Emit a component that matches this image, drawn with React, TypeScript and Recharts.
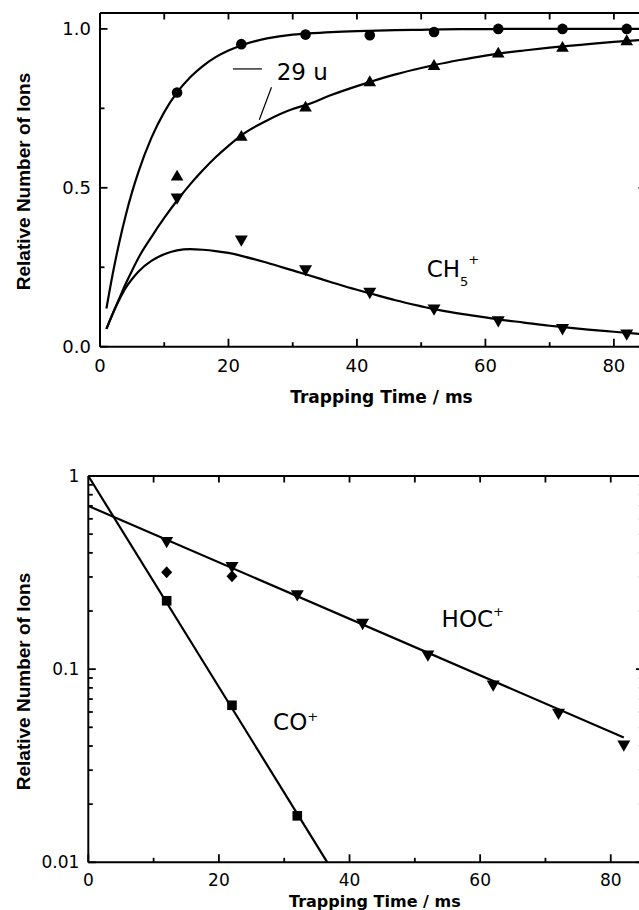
import React from "react";
import {
  ComposedChart,
  Line,
  Scatter,
  XAxis,
  YAxis,
  ReferenceDot,
  ReferenceLine,
} from "recharts";

// ─── Data ──────────────────────────────────────────────────────────────────────

// trapping times (ms) of the measured points
const sampleTimes = [12, 22, 32, 42, 52, 62, 72, 82];

// upper panel – measured relative numbers
const circleValues = [0.8, 0.952, 0.982, 0.98, 0.99, 1.0, 1.0, 1.0];
const upTriangleValues = [0.538, 0.663, 0.755, 0.835, 0.886, 0.925, 0.943, 0.964];
const ch5Values = [0.467, 0.335, 0.241, 0.17, 0.118, 0.081, 0.056, 0.039];

// upper panel – fitted curves
const curveTimes = [1, 2, 3, 4, 5, 6, 8, 10, 12, 14, 16, 18, 20, 22, 26, 30, 32, 36, 40, 42, 46, 50, 52, 56, 60, 62, 66, 70, 72, 76, 80, 84];
const circleCurve = [0.12, 0.231, 0.328, 0.413, 0.487, 0.551, 0.657, 0.738, 0.8, 0.847, 0.883, 0.911, 0.932, 0.948, 0.97, 0.982, 0.985, 0.99, 0.993, 0.994, 0.996, 0.997, 0.998, 0.999, 0.999, 1, 1, 1, 1, 1, 1, 1];
const upTriangleCurve = [0.056, 0.105, 0.152, 0.198, 0.24, 0.28, 0.345, 0.405, 0.46, 0.51, 0.555, 0.596, 0.632, 0.665, 0.712, 0.748, 0.76, 0.792, 0.82, 0.833, 0.857, 0.877, 0.886, 0.902, 0.916, 0.922, 0.932, 0.941, 0.945, 0.952, 0.959, 0.965];
const ch5Curve = [0.056, 0.105, 0.148, 0.185, 0.213, 0.237, 0.27, 0.291, 0.303, 0.307, 0.305, 0.301, 0.295, 0.286, 0.264, 0.24, 0.228, 0.203, 0.179, 0.168, 0.146, 0.127, 0.118, 0.104, 0.092, 0.086, 0.076, 0.066, 0.062, 0.054, 0.047, 0.04];

// lower panel – measured points (log scale)
const hocValues = [0.457, 0.339, 0.242, 0.172, 0.118, 0.0826, 0.0589, 0.0404];
const diamondTimes = [12, 22];
const diamondValues = [0.317, 0.303];
const coTimes = [12, 22, 32];
const coValues = [0.226, 0.065, 0.0174];

// lower panel – fitted straight lines (end points)
const hocFitTimes = [0, 82];
const hocFitValues = [0.7, 0.0443];
const coFitTimes = [0, 36.6];
const coFitValues = [1, 0.01];

// axis ticks
const timeTicks = [0, 10, 20, 30, 40, 50, 60, 70, 80];
const linearTicks = [0, 0.25, 0.5, 0.75, 1];
const logTicks = [
  0.01, 0.02, 0.03, 0.04, 0.05, 0.06, 0.07, 0.08, 0.09,
  0.1, 0.2, 0.3, 0.4, 0.5, 0.6, 0.7, 0.8, 0.9, 1,
];

const pts = (ts: number[], vs: number[]) => ts.map((t, i) => ({ t, v: vs[i] }));

// ─── Styling helpers ───────────────────────────────────────────────────────────

const INK = "#000";
const FONT = "'DejaVu Sans', sans-serif";
const AXIS_LINE = { stroke: INK, strokeWidth: 2 };

// marker shapes
const CircleMark = (p: any) => <circle cx={p.cx} cy={p.cy} r={5.3} fill={INK} />;
const TriUpMark = (p: any) => (
  <polygon points={`${p.cx},${p.cy - 6} ${p.cx - 6.3},${p.cy + 4.8} ${p.cx + 6.3},${p.cy + 4.8}`} fill={INK} />
);
const TriDownMark = (p: any) => (
  <polygon points={`${p.cx - 6.5},${p.cy - 4.8} ${p.cx + 6.5},${p.cy - 4.8} ${p.cx},${p.cy + 6.5}`} fill={INK} />
);
const SquareMark = (p: any) => <rect x={p.cx - 4.8} y={p.cy - 4.8} width={9.6} height={9.6} fill={INK} />;
const DiamondMark = (p: any) => (
  <polygon points={`${p.cx},${p.cy - 6} ${p.cx + 5.5},${p.cy} ${p.cx},${p.cy + 6} ${p.cx - 5.5},${p.cy}`} fill={INK} />
);

// Ticks: tickSize/tickMargin are 0, so x,y is the point on the axis line.
// A top-oriented XAxis would not lay out its ticks, so the bottom tick also
// draws the matching inward tick on the top frame (plotHeight above).
const bottomTick = (fontSize: number, labelDy: number, plotHeight: number) => (props: any) => {
  const { x, y, payload } = props;
  const major = payload.value % 20 === 0;
  const top = y - plotHeight;
  return (
    <g>
      <line x1={x} x2={x} y1={y} y2={y - (major ? 8 : 4.5)} stroke={INK} strokeWidth={1.8} />
      {payload.value > 0 && <line x1={x} x2={x} y1={top} y2={top + 6.5} stroke={INK} strokeWidth={1.8} />}
      {major && (
        <text x={x} y={y + labelDy} textAnchor="middle" fontSize={fontSize} fontFamily={FONT} fill={INK}>
          {payload.value}
        </text>
      )}
    </g>
  );
};

const leftTick = (fontSize: number, format: (v: number) => string) => (props: any) => {
  const { x, y, payload } = props;
  const label = format(payload.value);
  return (
    <g>
      <line x1={x} x2={x + (label ? 7.5 : 4.5)} y1={y} y2={y} stroke={INK} strokeWidth={1.8} />
      {label && (
        <text x={x - 9} y={y} dy="0.36em" textAnchor="end" fontSize={fontSize} fontFamily={FONT} fill={INK}>
          {label}
        </text>
      )}
    </g>
  );
};

const rightTick = (format: (v: number) => string) => (props: any) => {
  const { x, y, payload } = props;
  const len = format(payload.value) ? 7.5 : 4.5;
  return <line x1={x} x2={x - len} y1={y} y2={y} stroke={INK} strokeWidth={1.8} />;
};

const linearLabel = (v: number) => (v === 0 || v === 0.5 || v === 1 ? v.toFixed(1) : "");
const logLabel = (v: number) => (v === 0.01 ? "0.01" : v === 0.1 ? "0.1" : v === 1 ? "1" : "");

const xTitle = (dx: number, dy: number, size: number) => (props: any) => {
  const { x, y, width } = props.viewBox;
  return (
    <text x={x + width / 2 + dx} y={y + dy} textAnchor="middle" fontFamily={FONT} fontWeight="bold" fontSize={size} fill={INK}>
      Trapping Time / ms
    </text>
  );
};

const yTitle = (shift: number) => (props: any) => {
  const { x, y, height } = props.viewBox;
  const cx = x + 30;
  const cy = y + height / 2 + shift;
  return (
    <text
      x={cx}
      y={cy}
      transform={`rotate(-90 ${cx} ${cy})`}
      textAnchor="middle"
      fontFamily="'Liberation Sans', Arial, sans-serif"
      fontWeight="bold"
      fontSize={19}
      fill={INK}
    >
      Relative Number of Ions
    </text>
  );
};

// in-plot species labels
const speciesLabel = (main: string, sub: string, sup: string, supDy: number) => (p: any) => (
  <text x={p.cx} y={p.cy} fontSize={23} fontFamily={FONT} fill={INK}>
    {main}
    {sub && (
      <tspan dy={9.5} fontSize={13}>
        {sub}
      </tspan>
    )}
    {sup && (
      <tspan dy={supDy} fontSize={13}>
        {sup}
      </tspan>
    )}
  </text>
);

// ─── Panels ────────────────────────────────────────────────────────────────────

function UpperPanel() {
  return (
    <ComposedChart width={700} height={420} margin={{ top: 3, right: 44, bottom: 13.3, left: 0 }}>
      <XAxis
        dataKey="t"
        type="number"
        domain={[0, 85]}
        allowDataOverflow
        ticks={timeTicks}
        interval={0}
        height={60}
        tickSize={0}
        tickMargin={0}
        axisLine={AXIS_LINE}
        tick={bottomTick(18, 25, 333.7)}
        label={xTitle(8.5, 56.3, 17)}
      />
      {/* top frame line */}
      <XAxis
        xAxisId="top"
        orientation="top"
        type="number"
        domain={[0, 85]}
        allowDataOverflow
        height={10}
        tickLine={false}
        tick={false}
        axisLine={AXIS_LINE}
      />
      <YAxis
        type="number"
        domain={[0, 1.05]}
        allowDataOverflow
        ticks={linearTicks}
        interval={0}
        width={100}
        tickSize={0}
        tickMargin={0}
        axisLine={AXIS_LINE}
        tick={leftTick(18, linearLabel)}
        label={yTitle(1.65)}
      />
      <YAxis
        yAxisId="right"
        orientation="right"
        type="number"
        domain={[0, 1.05]}
        allowDataOverflow
        ticks={linearTicks}
        interval={0}
        width={10}
        tickSize={0}
        tickMargin={0}
        axisLine={AXIS_LINE}
        tick={rightTick(linearLabel)}
      />

      <Line data={pts(curveTimes, circleCurve)} dataKey="v" type="monotone" stroke={INK} strokeWidth={2.2} dot={false} activeDot={false} isAnimationActive={false} />
      <Line data={pts(curveTimes, upTriangleCurve)} dataKey="v" type="monotone" stroke={INK} strokeWidth={2.2} dot={false} activeDot={false} isAnimationActive={false} />
      <Line data={pts(curveTimes, ch5Curve)} dataKey="v" type="monotone" stroke={INK} strokeWidth={2.2} dot={false} activeDot={false} isAnimationActive={false} />

      <Scatter data={pts(sampleTimes, circleValues)} dataKey="v" shape={CircleMark} isAnimationActive={false} />
      <Scatter data={pts(sampleTimes, upTriangleValues)} dataKey="v" shape={TriUpMark} isAnimationActive={false} />
      <Scatter data={pts(sampleTimes, ch5Values)} dataKey="v" shape={TriDownMark} isAnimationActive={false} />

      {/* leader lines of the "29 u" label */}
      <ReferenceLine segment={[{ x: 20.7, y: 0.874 }, { x: 25.2, y: 0.874 }]} stroke={INK} strokeWidth={1.2} />
      <ReferenceLine segment={[{ x: 26.7, y: 0.8165 }, { x: 24.8, y: 0.714 }]} stroke={INK} strokeWidth={1.2} />

      <ReferenceDot x={27.5} y={0.839} r={0} shape={speciesLabel("29 u", "", "", 0)} />
      <ReferenceDot x={50.85} y={0.22} r={0} shape={speciesLabel("CH", "5", "+", -22)} />
    </ComposedChart>
  );
}

function LowerPanel() {
  return (
    <ComposedChart width={700} height={470} margin={{ top: 26, right: 46.6, bottom: 7.7, left: 0.3 }}>
      <XAxis
        dataKey="t"
        type="number"
        domain={[0, 85]}
        allowDataOverflow
        ticks={timeTicks}
        interval={0}
        height={40}
        tickSize={0}
        tickMargin={0}
        axisLine={AXIS_LINE}
        tick={bottomTick(17, 23.4, 386.3)}
        label={xTitle(9, 44.4, 16)}
      />
      {/* top frame line */}
      <XAxis
        xAxisId="top"
        orientation="top"
        type="number"
        domain={[0, 85]}
        allowDataOverflow
        height={10}
        tickLine={false}
        tick={false}
        axisLine={AXIS_LINE}
      />
      <YAxis
        type="number"
        scale="log"
        domain={[0.01, 1]}
        allowDataOverflow
        ticks={logTicks}
        interval={0}
        width={88}
        tickSize={0}
        tickMargin={0}
        axisLine={AXIS_LINE}
        tick={leftTick(17, logLabel)}
        label={yTitle(12.35)}
      />
      <YAxis
        yAxisId="right"
        orientation="right"
        type="number"
        scale="log"
        domain={[0.01, 1]}
        allowDataOverflow
        ticks={logTicks}
        interval={0}
        width={10}
        tickSize={0}
        tickMargin={0}
        axisLine={AXIS_LINE}
        tick={rightTick(logLabel)}
      />

      <Line data={pts(hocFitTimes, hocFitValues)} dataKey="v" type="linear" stroke={INK} strokeWidth={2.2} dot={false} activeDot={false} isAnimationActive={false} />
      <Line data={pts(coFitTimes, coFitValues)} dataKey="v" type="linear" stroke={INK} strokeWidth={2.2} dot={false} activeDot={false} isAnimationActive={false} />

      <Scatter data={pts(sampleTimes, hocValues)} dataKey="v" shape={TriDownMark} isAnimationActive={false} />
      <Scatter data={pts(diamondTimes, diamondValues)} dataKey="v" shape={DiamondMark} isAnimationActive={false} />
      <Scatter data={pts(coTimes, coValues)} dataKey="v" shape={SquareMark} isAnimationActive={false} />

      <ReferenceDot x={54.1} y={0.1656} r={0} shape={speciesLabel("HOC", "", "+", -10.5)} />
      <ReferenceDot x={28.3} y={0.0483} r={0} shape={speciesLabel("CO", "", "+", -9)} />
    </ComposedChart>
  );
}

export default function App() {
  return (
    <div style={{ position: "fixed", left: 0, top: 0, width: 639, height: 910, overflow: "hidden", background: "#fff" }}>
      <div style={{ position: "absolute", left: 0, top: 0 }}>
        <UpperPanel />
      </div>
      <div style={{ position: "absolute", left: 0, top: 440 }}>
        <LowerPanel />
      </div>
    </div>
  );
}
